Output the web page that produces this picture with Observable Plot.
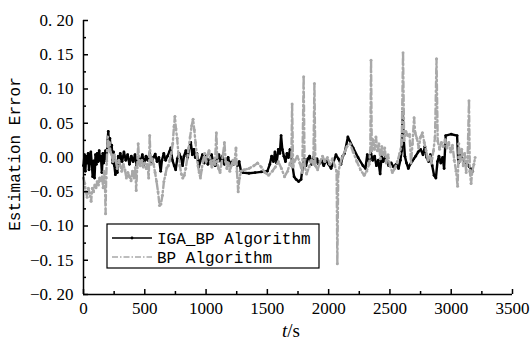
<!DOCTYPE html>
<html><head><meta charset="utf-8">
<script src="https://cdn.jsdelivr.net/npm/d3@7"></script>
<script src="https://cdn.jsdelivr.net/npm/@observablehq/plot@0.6"></script>
<style>
body{margin:0;background:#fff}
#wrap{position:relative;width:530px;height:345px;overflow:hidden}
#wrap svg{display:block}
svg.main text{font-family:"Liberation Serif",serif !important;font-size:17px !important}
.ylab{position:absolute;font-family:"Liberation Mono",monospace;font-size:16px;color:#000;white-space:nowrap}
.xlab{position:absolute;font-family:"Liberation Serif",serif;font-size:19px;color:#000;white-space:nowrap}
</style>
</head><body><div id="wrap"></div>
<script>
const seriesNames = ["IGA_BP Algorithm", "BP Algorithm"];
const igaBP = [[0,-0.012],[8,0.004],[15,-0.02],[22,0.002],[30,-0.008],[38,0.006],[45,-0.018],[52,0.0],[60,0.008],[68,-0.01],[75,-0.028],[82,-0.005],[90,-0.03],[98,0.004],[105,-0.01],[112,0.006],[120,-0.006],[128,0.01],[135,-0.004],[142,0.002],[150,-0.022],[158,0.006],[165,-0.008],[172,0.004],[180,0.01],[188,-0.005],[195,0.02],[202,0.038],[208,0.02],[215,0.028],[222,0.012],[230,0.018],[238,-0.008],[245,0.008],[252,-0.012],[260,-0.025],[268,-0.006],[276,-0.022],[284,0.002],[292,-0.012],[300,0.006],[315,-0.006],[330,0.008],[345,-0.004],[360,0.004],[375,-0.01],[390,0.002],[405,-0.006],[420,0.004],[435,-0.012],[450,0.0],[465,-0.006],[480,0.004],[495,-0.01],[510,0.002],[525,-0.004],[540,0.006],[555,-0.008],[570,0.0],[585,0.005],[600,-0.006],[615,0.0],[630,-0.02],[640,-0.004],[655,0.006],[670,-0.004],[685,0.002],[700,0.008],[712,0.014],[725,-0.004],[740,-0.012],[752,-0.018],[765,-0.002],[780,0.006],[795,0.0],[808,-0.012],[820,0.002],[835,0.01],[850,0.0],[862,0.014],[875,0.022],[888,0.004],[900,0.012],[912,0.0],[925,0.006],[940,-0.014],[955,-0.004],[970,0.004],[985,-0.008],[1000,0.002],[1015,-0.01],[1030,-0.002],[1045,0.004],[1060,-0.008],[1075,-0.012],[1090,-0.002],[1105,0.004],[1120,-0.006],[1135,0.002],[1150,-0.01],[1165,-0.004],[1180,0.0],[1195,-0.012],[1210,-0.006],[1225,-0.01],[1240,-0.004],[1255,-0.012],[1270,-0.006],[1285,-0.02],[1300,-0.022],[1350,-0.023],[1400,-0.022],[1450,-0.021],[1500,-0.02],[1520,-0.01],[1535,0.002],[1550,-0.006],[1562,0.008],[1575,-0.008],[1590,0.012],[1602,0.006],[1612,0.032],[1622,0.012],[1635,0.002],[1648,-0.006],[1660,0.006],[1672,0.0],[1685,0.012],[1695,0.004],[1705,-0.012],[1718,-0.028],[1735,-0.032],[1755,-0.035],[1775,-0.032],[1790,-0.012],[1800,-0.002],[1815,-0.012],[1830,-0.002],[1845,0.002],[1860,-0.01],[1875,0.0],[1890,-0.008],[1905,-0.002],[1920,-0.01],[1940,-0.004],[1960,-0.012],[1980,-0.004],[2000,-0.01],[2020,-0.016],[2040,-0.006],[2060,0.004],[2080,-0.002],[2100,-0.01],[2115,0.002],[2130,0.006],[2157,0.03],[2200,0.014],[2240,0.0],[2280,-0.012],[2300,-0.016],[2315,0.004],[2330,-0.006],[2345,0.006],[2360,-0.004],[2375,0.002],[2390,-0.012],[2405,-0.004],[2420,-0.024],[2432,0.002],[2445,-0.006],[2460,0.0],[2475,-0.004],[2490,-0.012],[2510,-0.008],[2530,-0.014],[2550,-0.01],[2570,-0.016],[2585,-0.004],[2596,0.01],[2604,0.066],[2612,0.028],[2622,0.002],[2635,-0.008],[2650,-0.016],[2665,-0.01],[2680,-0.006],[2695,-0.002],[2710,0.002],[2730,0.008],[2750,0.012],[2770,0.004],[2785,0.016],[2800,0.0],[2815,-0.006],[2830,0.004],[2845,-0.012],[2860,-0.026],[2875,-0.03],[2888,-0.006],[2900,0.002],[2915,-0.008],[2930,0.0],[2942,-0.016],[2955,0.032],[3000,0.034],[3048,0.032],[3058,-0.008],[3072,0.006],[3090,-0.002],[3110,-0.006],[3130,-0.01],[3150,-0.014],[3175,-0.02]];
const bp = [[0,-0.03],[10,-0.038],[20,-0.05],[30,-0.058],[40,-0.045],[50,-0.052],[62,-0.064],[72,-0.045],[82,-0.05],[92,-0.04],[102,-0.044],[112,-0.035],[122,-0.04],[132,-0.03],[142,-0.034],[152,-0.028],[160,-0.044],[168,-0.02],[175,-0.035],[180,-0.082],[185,-0.03],[190,-0.005],[197,0.03],[205,0.018],[212,0.022],[220,0.008],[230,0.004],[240,-0.006],[252,0.004],[262,-0.004],[275,-0.016],[288,-0.004],[300,-0.012],[312,-0.02],[325,-0.01],[338,-0.018],[350,-0.03],[362,-0.022],[375,-0.028],[388,-0.034],[400,-0.02],[412,-0.03],[422,-0.015],[430,-0.048],[438,-0.015],[446,0.02],[454,-0.004],[464,-0.012],[476,-0.004],[488,-0.014],[500,-0.008],[512,-0.016],[522,-0.01],[532,-0.03],[540,0.032],[548,-0.01],[560,-0.002],[572,-0.01],[584,-0.022],[596,-0.035],[608,-0.05],[620,-0.07],[632,-0.068],[644,-0.055],[656,-0.035],[668,-0.025],[680,-0.015],[692,-0.012],[704,-0.004],[716,0.006],[728,0.02],[738,0.045],[746,0.06],[754,0.042],[764,0.028],[774,0.006],[786,-0.012],[798,-0.024],[810,-0.03],[822,-0.026],[834,-0.016],[846,-0.002],[858,0.014],[870,0.03],[882,0.046],[894,0.056],[904,0.04],[914,0.022],[924,0.004],[934,-0.012],[944,-0.022],[954,-0.03],[964,-0.018],[976,-0.004],[988,0.006],[1000,-0.006],[1012,0.004],[1024,0.01],[1036,-0.006],[1048,-0.014],[1060,-0.004],[1072,-0.01],[1084,0.036],[1092,-0.006],[1102,-0.016],[1114,-0.022],[1126,-0.008],[1138,0.004],[1150,0.022],[1160,-0.006],[1170,-0.016],[1182,-0.008],[1194,-0.02],[1206,-0.012],[1218,-0.004],[1230,-0.01],[1244,0.014],[1252,-0.02],[1262,-0.05],[1272,-0.03],[1285,-0.02],[1310,-0.018],[1350,-0.016],[1390,-0.012],[1420,-0.008],[1450,-0.014],[1480,-0.022],[1510,-0.026],[1540,-0.02],[1565,-0.014],[1590,-0.006],[1615,-0.016],[1640,-0.028],[1665,-0.02],[1685,-0.008],[1695,-0.012],[1702,0.078],[1710,-0.014],[1725,-0.004],[1745,0.002],[1765,-0.008],[1785,-0.022],[1796,0.118],[1804,-0.012],[1820,-0.024],[1840,-0.014],[1860,-0.004],[1875,-0.01],[1884,0.108],[1892,-0.012],[1910,-0.018],[1930,-0.006],[1950,0.002],[1970,-0.006],[1990,0.0],[2010,-0.01],[2030,-0.002],[2050,-0.012],[2065,-0.02],[2071,-0.155],[2078,-0.024],[2092,-0.01],[2110,0.0],[2130,0.008],[2150,0.016],[2175,0.02],[2200,0.008],[2230,-0.006],[2260,-0.018],[2290,-0.026],[2310,-0.02],[2330,-0.01],[2340,0.01],[2346,0.142],[2352,0.01],[2362,0.026],[2374,0.012],[2386,0.03],[2398,0.01],[2410,0.02],[2422,-0.002],[2434,0.016],[2446,0.004],[2458,0.014],[2470,-0.008],[2485,0.004],[2500,-0.012],[2520,-0.022],[2540,-0.016],[2560,-0.006],[2580,0.006],[2596,0.02],[2607,0.153],[2616,0.025],[2630,0.038],[2645,0.032],[2660,0.034],[2672,-0.008],[2684,0.02],[2697,0.058],[2706,0.036],[2720,0.028],[2735,0.014],[2750,0.03],[2765,0.036],[2780,0.022],[2795,0.01],[2810,-0.004],[2825,0.002],[2840,-0.008],[2855,0.01],[2868,0.03],[2880,0.144],[2890,0.024],[2905,0.012],[2920,0.022],[2935,0.016],[2950,0.026],[2965,0.014],[2980,0.022],[2995,0.008],[3010,0.018],[3025,-0.004],[3040,-0.02],[3052,-0.042],[3062,0.02],[3072,-0.006],[3085,0.012],[3098,-0.012],[3110,0.006],[3122,-0.022],[3134,0.0],[3145,0.083],[3152,-0.02],[3162,-0.038],[3172,-0.02],[3185,-0.01],[3195,0.0]];
const xTicks = [0,500,1000,1500,2000,2500,3000,3500];
const xMinor = [250,750,1250,1750,2250,2750,3250];
const yTicks = [-0.2,-0.15,-0.1,-0.05,0,0.05,0.1,0.15,0.2];
const yMinor = [-0.175,-0.125,-0.075,-0.025,0.025,0.075,0.125,0.175];

const fmtY = v => (v < 0 ? "\u2212" : "") + Math.abs(v).toFixed(2).replace(".", ". ");
const fmtX = v => String(v);
const gray = "#a8a8a8";

const chart = Plot.plot({
  width: 530, height: 345,
  marginLeft: 83, marginRight: 18, marginTop: 20, marginBottom: 51,
  x: {domain: [0, 3500]},
  y: {domain: [-0.2, 0.2]},
  marks: [
    Plot.line(igaBP, {x: d => d[0], y: d => d[1], stroke: "#000", strokeWidth: 2.4, strokeLinejoin: "round"}),
    Plot.dot(igaBP, {x: d => d[0], y: d => d[1], r: 1.4, fill: "#000"}),
    Plot.line(bp, {x: d => d[0], y: d => d[1], stroke: gray, strokeWidth: 2.4, strokeDasharray: "6,3,1.5,3"}),
    Plot.dot(bp, {x: d => d[0], y: d => d[1], r: 1.5, fill: gray}),
    Plot.axisX(xTicks, {tickSize: 0, tickPadding: 7, tickFormat: fmtX, fill: "#000", label: null}),
    Plot.axisX(xTicks, {tickSize: 5, dy: -5, fill: "none", stroke: "#000", strokeWidth: 1.5, label: null}),
    Plot.axisX(xMinor, {tickSize: 3, dy: -3, fill: "none", stroke: "#000", strokeWidth: 1.5, label: null}),
    Plot.axisY(yTicks, {tickSize: 0, tickPadding: 10, tickFormat: fmtY, fill: "#000", label: null}),
    Plot.axisY(yTicks, {tickSize: 5, dx: 5, fill: "none", stroke: "#000", strokeWidth: 1.5, label: null}),
    Plot.axisY(yMinor, {tickSize: 3, dx: 3, fill: "none", stroke: "#000", strokeWidth: 1.5, label: null}),
    Plot.ruleX([0], {stroke: "#000", strokeWidth: 1.5}),
    Plot.ruleY([-0.2], {stroke: "#000", strokeWidth: 1.5})
  ]
});
chart.classList.add("main");
const wrap = document.getElementById("wrap");
wrap.appendChild(chart);

// axis titles
const xl = document.createElement("div");
xl.className = "xlab";
xl.style.left = "291px"; xl.style.top = "320px"; xl.style.transform = "translateX(-50%)";
xl.innerHTML = "<i>t</i>/s";
wrap.appendChild(xl);

const yl = document.createElement("div");
yl.className = "ylab";
yl.style.left = "16px"; yl.style.top = "154px"; yl.style.lineHeight = "20px";
yl.style.transform = "translate(-50%,-50%) rotate(-90deg)";
yl.textContent = "Estimation Error";
wrap.appendChild(yl);

// legend
const lg = d3.create("svg").attr("width", 214).attr("height", 46)
  .style("position", "absolute").style("left", "106px").style("top", "223px");
lg.append("rect").attr("x", 1).attr("y", 1).attr("width", 212).attr("height", 44)
  .attr("fill", "#fff").attr("stroke", "#000").attr("stroke-width", 1.2);
lg.append("line").attr("x1", 6).attr("x2", 46).attr("y1", 15).attr("y2", 15)
  .attr("stroke", "#000").attr("stroke-width", 1.5);
lg.append("circle").attr("cx", 26).attr("cy", 15).attr("r", 1.4).attr("fill", "#000");
lg.append("line").attr("x1", 6).attr("x2", 46).attr("y1", 34).attr("y2", 34)
  .attr("stroke", gray).attr("stroke-width", 1.5).attr("stroke-dasharray", "6,2,1.5,2");
seriesNames.forEach((n, i) => {
  lg.append("text").attr("x", 51).attr("y", i === 0 ? 15 : 34).attr("dy", "0.35em")
    .style("font-family", "'Liberation Mono', monospace").style("font-size", "16px").attr("fill", "#000").text(n);
});
wrap.appendChild(lg.node());
</script>
</body></html>
